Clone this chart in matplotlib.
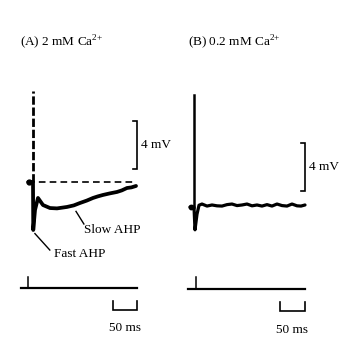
import matplotlib
matplotlib.use("Agg")
import matplotlib.pyplot as plt

plt.rcParams['font.family'] = ['Liberation Serif', 'DejaVu Serif']
plt.rcParams['mathtext.fontset'] = 'custom'
plt.rcParams['mathtext.rm'] = 'Liberation Serif'

# ---- data (time in ms, membrane potential in mV relative to rest) ----
titles = [r"(A) 2 mM Ca$^{2{+}}$", r"(B) 0.2 mM Ca$^{2{+}}$"]

# Panel A: 2 mM Ca2+
a_spike_peak = 7.6
a_t = [-10, -1, 0, 0.5, 4.2, 10.4, 20.8, 35.4, 50, 70.8, 85, 97.9, 112, 125, 135,
       145.8, 160, 175, 185, 195.8, 205, 214.6]
a_v = [0, 0, 0, -4.0, -2.33, -1.33, -1.92, -2.17, -2.2, -2.08, -1.95, -1.75, -1.55,
       -1.33, -1.2, -1.08, -0.95, -0.83, -0.7, -0.5, -0.45, -0.33]
a_rest_t = [-10, 214.6]

# Panel B: 0.2 mM Ca2+
b_spike_peak = 9.3
b_t = [-8, -1, 0, 2, 6, 10, 16, 26, 36, 46, 56, 66, 76, 86, 96, 106, 116, 126,
       136, 146, 156, 166, 176, 186, 196, 206, 214, 222]
b_v = [0, 0, 0, -1.9, -0.6, 0.15, 0.25, 0.08, 0.17, 0.1, 0.08, 0.2, 0.25, 0.12,
       0.17, 0.25, 0.1, 0.17, 0.08, 0.2, 0.08, 0.25, 0.12, 0.08, 0.25, 0.1, 0.08, 0.17]

scale_mv = 4      # vertical scale bar
scale_ms = 50     # horizontal scale bar
annotations = ["Slow AHP", "Fast AHP"]

# ---- figure ----
fig = plt.figure(figsize=(3.47, 3.52), dpi=100)
axA = fig.add_axes([0, 0, 0.5, 1])
axB = fig.add_axes([0.5, 0, 0.5, 1])
axA.set_xlim(-68.75, 292.7)
axA.set_ylim(-14.17, 15.17)
axB.set_xlim(-41, 306)
axB.set_ylim(-12.08, 17.25)
for ax in (axA, axB):
    ax.axis('off')

k = 'black'
fs = 9.5

def vbar(ax, x, y0, length, tick):
    ax.plot([x - tick, x, x, x - tick], [y0, y0, y0 + length, y0 + length],
            color=k, lw=1.2, solid_joinstyle='miter')

def hbar(ax, x0, y, length, tick):
    ax.plot([x0, x0, x0 + length, x0 + length], [y + tick, y, y, y + tick],
            color=k, lw=1.2, solid_joinstyle='miter')

# Panel A
axA.plot([0, 0], [0, a_spike_peak], color=k, lw=2.0, ls=(0, (3.0, 1.0)))
axA.plot(a_t, a_v, color=k, lw=2.7, solid_joinstyle='round', solid_capstyle='round')
axA.plot(a_rest_t, [0, 0], color=k, lw=1.2, ls=(0, (4, 2.5)))
axA.plot([-9], [0], marker='o', ms=3.5, color=k)
vbar(axA, 216.7, 1.08, scale_mv, 8)
axA.text(226, 1.08 + scale_mv / 2, f"{scale_mv} mV", fontsize=fs, ha='left', va='center')
axA.plot([-25, 216.7], [-8.83, -8.83], color=k, lw=1.6)
axA.plot([-10.5, -10.5], [-8.83, -7.9], color=k, lw=1.1)
hbar(axA, 216.7 - scale_ms, -10.67, scale_ms, 0.75)
axA.text(216.7 - scale_ms / 2, -12.2, f"{scale_ms} ms", fontsize=fs, ha='center', va='center')
axA.text(-27, 11.67, titles[0], fontsize=fs, ha='left', va='center')
axA.plot([89.6, 106], [-2.45, -3.5], color=k, lw=1.0)
axA.text(107, -4.0, annotations[0], fontsize=fs, ha='left', va='center')
axA.plot([4, 35], [-4.3, -5.67], color=k, lw=1.0)
axA.text(44, -6.0, annotations[1], fontsize=fs, ha='left', va='center')

# Panel B
axB.plot([0, 0], [0, b_spike_peak], color=k, lw=1.8)
axB.plot(b_t, b_v, color=k, lw=2.3, solid_joinstyle='round', solid_capstyle='round')
axB.plot([-7], [0], marker='o', ms=3.2, color=k)
vbar(axB, 222, 1.33, scale_mv, 8)
axB.text(230, 1.33 + scale_mv / 2, f"{scale_mv} mV", fontsize=fs, ha='left', va='center')
axB.plot([-12, 222], [-6.83, -6.83], color=k, lw=1.6)
axB.plot([4, 4], [-6.83, -5.83], color=k, lw=1.1)
hbar(axB, 222 - scale_ms, -8.67, scale_ms, 0.75)
axB.text(222 - scale_ms / 2, -10.25, f"{scale_ms} ms", fontsize=fs, ha='center', va='center')
axB.text(-12, 13.75, titles[1], fontsize=fs, ha='left', va='center')

fig.savefig("out.png", dpi=100, facecolor='white')
